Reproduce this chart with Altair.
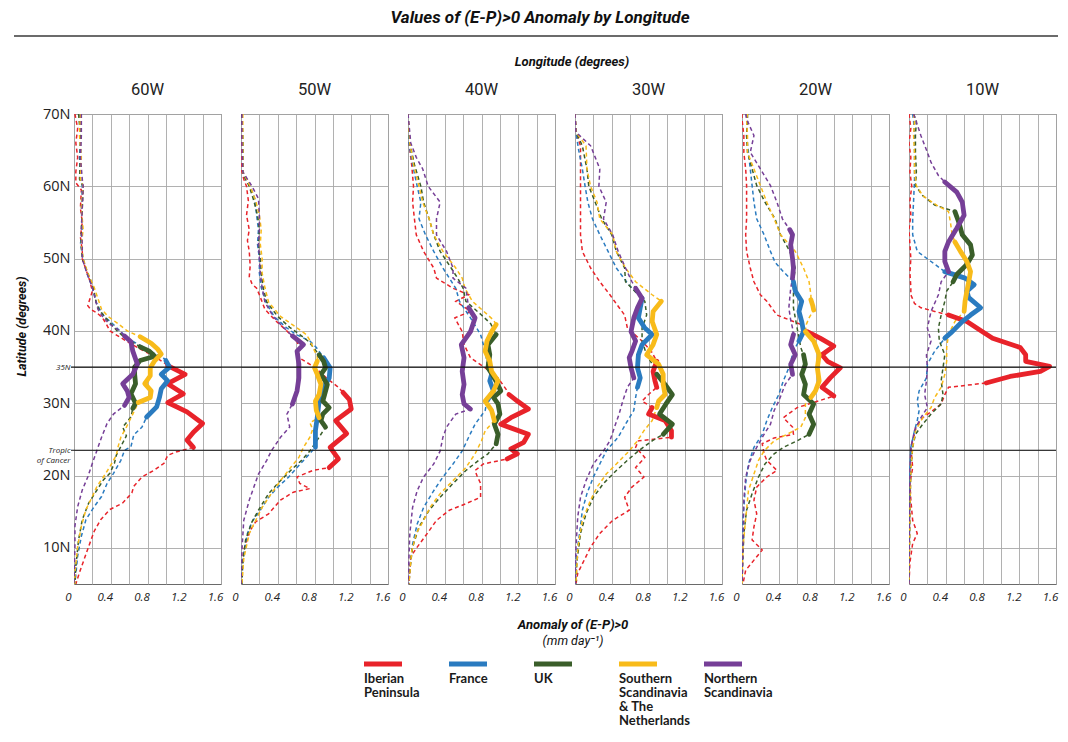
import altair as alt
import pandas as pd

# ---------------------------------------------------------------- categories
REGIONS = ["Iberian Peninsula", "France", "UK",
           "Southern Scandinavia & The Netherlands", "Northern Scandinavia"]
LEGEND_LABELS = ["Iberian\nPeninsula", "France", "UK",
                 "Southern\nScandinavia\n& The\nNetherlands", "Northern\nScandinavia"]
COLORS = ["#e8232a", "#2a7bc0", "#3a5e2a", "#f8bb1a", "#763f97"]
LONGITUDES = ["60W", "50W", "40W", "30W", "20W", "10W"]
LAT_GRID = [10, 20, 23.5, 30, 35, 40, 50, 60, 70]
X_GRID = [0, 0.2, 0.4, 0.6, 0.8, 1.0, 1.2, 1.4, 1.6]
MARKER_LATS = [35, 23.5]          # 35N and the Tropic of Cancer

# ---------------------------------------------------------------- series: (latitude, anomaly), north -> south
# 60W
W60_IBERIA = [(70, 0.01), (68, 0.04), (66, 0.02), (64, 0.04), (62, 0.02), (60.5, 0.02), (59.5, 0.08), (57, 0.07),
              (55, 0.09), (53, 0.07), (51, 0.09), (50, 0.09), (48.5, 0.13), (47, 0.17), (45.5, 0.2), (44.3, 0.17),
              (43.5, 0.15), (43, 0.18), (42.5, 0.25), (41.8, 0.31), (41, 0.35), (40, 0.39), (38.6, 0.57),
              (37.5, 0.72), (36.5, 0.87), (35.6, 0.98), (35.2, 1.02), (34, 1.21), (32.7, 1.02), (31.3, 1.19),
              (30.1, 1.02), (28.8, 1.23), (27.2, 1.40), (26, 1.30), (24.9, 1.23), (23.9, 1.30), (23.3, 1.12),
              (22.8, 1.02), (21.7, 0.98), (20.8, 0.88), (19.8, 0.74), (18.5, 0.65), (17.6, 0.63), (16.2, 0.53),
              (15.3, 0.39), (13.9, 0.29), (12.3, 0.22), (10.2, 0.16), (8.4, 0.11), (6.6, 0.06), (5, 0.02)]
W60_FRANCE = [(70, 0.06), (67, 0.07), (64, 0.06), (61, 0.07), (60, 0.09), (57, 0.08), (54, 0.09), (52, 0.07),
              (50, 0.1), (48, 0.14), (46, 0.2), (44, 0.24), (43, 0.28), (42, 0.33), (41, 0.42), (40, 0.5),
              (39, 0.58), (38, 0.72), (37, 0.86), (36.3, 0.97), (35.9, 1.0), (35, 1.04), (34, 0.95), (33.1, 1.02),
              (32, 0.95), (30.8, 0.93), (29.5, 0.9), (28.1, 0.79), (26.7, 0.74), (25.6, 0.65), (24, 0.62),
              (23.5, 0.55), (22.1, 0.51), (20.3, 0.43), (18.9, 0.36), (17.1, 0.3), (15.7, 0.22), (13.9, 0.13),
              (11.6, 0.08), (8.9, 0.04), (5, 0.01)]
W60_UK = [(70, 0.05), (67, 0.07), (64, 0.07), (61, 0.06), (60, 0.1), (57, 0.09), (54, 0.08), (52, 0.08),
          (50, 0.09), (48, 0.15), (46, 0.21), (44, 0.24), (43, 0.27), (42, 0.33), (41, 0.4), (40, 0.47),
          (39, 0.56), (37.8, 0.72), (37.2, 0.82), (36.5, 0.88), (35.9, 0.72), (35, 0.66), (34, 0.66),
          (32.7, 0.67), (31.3, 0.62), (30, 0.67), (29.3, 0.64), (28.1, 0.62), (26.7, 0.53), (25.5, 0.57),
          (24, 0.51), (22.8, 0.46), (21.7, 0.44), (20.3, 0.39), (19.4, 0.32), (18, 0.25), (16.2, 0.16),
          (13.9, 0.09), (11.1, 0.05), (7.5, 0.02), (5, 0.01)]
W60_SSCAN = [(70, 0.07), (67, 0.06), (64, 0.08), (61, 0.07), (60, 0.1), (57, 0.08), (54, 0.1), (52, 0.08),
             (50, 0.1), (48, 0.15), (46, 0.22), (44.5, 0.26), (43, 0.3), (42, 0.37), (41, 0.48), (40, 0.58),
             (39.2, 0.72), (38.3, 0.84), (37.5, 0.91), (36.8, 0.95), (35.9, 0.88), (34.9, 0.83), (33.8, 0.83),
             (32.7, 0.77), (31.7, 0.84), (30.8, 0.83), (30.1, 0.7), (28.5, 0.64), (26.7, 0.57), (25.3, 0.51),
             (24, 0.48), (22.8, 0.46), (21.2, 0.39), (19.8, 0.32), (18.5, 0.25), (17.1, 0.2), (15.3, 0.13),
             (13, 0.08), (10.2, 0.04), (6.6, 0.01), (5, 0.01)]
W60_NSCAN = [(70, 0.08), (67, 0.08), (64, 0.07), (61, 0.09), (60, 0.1), (57, 0.09), (54, 0.08), (52, 0.09),
             (50, 0.09), (48, 0.14), (46, 0.2), (44, 0.24), (43, 0.26), (42, 0.31), (41, 0.38), (40, 0.5),
             (39.3, 0.55), (38.5, 0.62), (37.2, 0.64), (35.4, 0.69), (34, 0.64), (32.7, 0.53), (31.7, 0.58),
             (30.8, 0.6), (29.7, 0.55), (28.5, 0.43), (27.2, 0.36), (25.3, 0.3), (23.5, 0.25), (21.7, 0.2),
             (19.8, 0.15), (18, 0.09), (15.7, 0.04), (13, 0.01), (10.2, 0.01), (5, 0.0)]
# 50W
W50_IBERIA = [(70, 0.01), (66, 0.01), (62, 0.01), (61, 0.03), (60, 0.06), (58, 0.08), (56, 0.06), (54, 0.09),
              (52.5, 0.07), (51, 0.09), (49, 0.1), (47.5, 0.09), (46.5, 0.12), (45.9, 0.17), (45, 0.2), (43, 0.26),
              (41.5, 0.37), (40, 0.5), (38.5, 0.61), (37.5, 0.64), (36.3, 0.63), (35, 0.8), (33.5, 0.93),
              (32.3, 1.05), (31.5, 1.11), (30.5, 1.18), (29.2, 1.2), (27.6, 1.03), (25.8, 1.15), (23.9, 0.97),
              (22.3, 1.06), (21.1, 0.96), (20.7, 0.78), (19.8, 0.61), (18.9, 0.64), (18.2, 0.75), (17.7, 0.57),
              (16.6, 0.43), (14.7, 0.3), (13.6, 0.16), (12.4, 0.1), (9.7, 0.03), (7, 0.01), (5, 0.0)]
W50_FRANCE = [(70, 0.01), (66, 0.02), (62, 0.02), (61, 0.05), (60, 0.1), (58.3, 0.15), (56, 0.17), (54, 0.19),
              (52, 0.18), (50, 0.2), (48, 0.2), (46, 0.22), (44, 0.27), (42, 0.36), (40.5, 0.49), (39.5, 0.6),
              (38.6, 0.75), (37.7, 0.82), (36.3, 0.9), (34.9, 0.97), (33.5, 0.96), (32.2, 0.9), (30.3, 0.85),
              (28, 0.83), (26.2, 0.81), (23.9, 0.81), (22.5, 0.71), (21.1, 0.61), (19.8, 0.52), (18.4, 0.4),
              (17, 0.3), (15.2, 0.21), (13.6, 0.12), (12, 0.07), (9.2, 0.03), (7, 0.01), (5, 0.01)]
W50_UK = [(70, 0.01), (66, 0.02), (62, 0.02), (61, 0.05), (60, 0.09), (58, 0.14), (56, 0.18), (54, 0.2),
          (52, 0.19), (50, 0.21), (48, 0.22), (46, 0.24), (44, 0.28), (42, 0.4), (40.5, 0.53), (39.5, 0.64),
          (38.5, 0.74), (37.5, 0.8), (36.7, 0.85), (35.8, 0.9), (34.9, 0.92), (34, 0.87), (32.6, 0.94),
          (31.2, 0.91), (30.3, 0.89), (29.4, 0.96), (28.5, 0.89), (27.6, 0.87), (26.7, 0.92), (25.3, 0.85),
          (23.4, 0.75), (22.1, 0.66), (20.7, 0.54), (18.9, 0.4), (17.5, 0.3), (15.2, 0.19), (13.6, 0.12),
          (11.1, 0.05), (8, 0.02), (5, 0.01)]
W50_SSCAN = [(70, 0.02), (66, 0.02), (62, 0.02), (61, 0.06), (60, 0.1), (58, 0.16), (56, 0.2), (54, 0.22),
             (52, 0.21), (50, 0.23), (48, 0.23), (46, 0.26), (44, 0.3), (42, 0.43), (40.5, 0.6), (39.5, 0.71),
             (38.5, 0.76), (37.5, 0.79), (36.5, 0.83), (35.8, 0.83), (34.9, 0.8), (34, 0.83), (32.6, 0.87),
             (31.2, 0.85), (30.3, 0.81), (29, 0.82), (28, 0.85), (27.3, 0.75), (26.4, 0.78), (25.3, 0.75),
             (23.9, 0.68), (22.5, 0.63), (21.1, 0.54), (19.3, 0.43), (17.5, 0.33), (15.6, 0.23), (13.8, 0.16),
             (12, 0.09), (8.5, 0.03), (5, 0.01)]
W50_NSCAN = [(70, 0.01), (66, 0.01), (62, 0.02), (61, 0.07), (60, 0.12), (58.3, 0.19), (56, 0.2), (54, 0.2),
             (52, 0.19), (50, 0.2), (48, 0.21), (46, 0.23), (44, 0.26), (42, 0.35), (40.5, 0.46), (39.3, 0.56),
             (38.1, 0.68), (37.2, 0.61), (35.4, 0.63), (33.5, 0.63), (31.7, 0.61), (29.9, 0.56), (28.5, 0.5),
             (26.7, 0.53), (25.3, 0.43), (23.4, 0.33), (22.1, 0.28), (20.2, 0.19), (18.4, 0.14), (16.6, 0.09),
             (13.8, 0.03), (9.7, 0.01), (5, 0.0)]
# 40W
W40_IBERIA = [(70, 0.0), (66, 0.01), (63, 0.04), (60, 0.06), (57.8, 0.05), (55.5, 0.07), (53.3, 0.09), (51, 0.17),
              (48.7, 0.28), (47.3, 0.31), (45.9, 0.49), (45, 0.66), (44.1, 0.52), (42.7, 0.68), (41.8, 0.51),
              (39.9, 0.59), (38.1, 0.61), (36.3, 0.68), (34.9, 0.84), (33.5, 0.98), (31.7, 1.08), (31.2, 1.1),
              (30.3, 1.19), (29.2, 1.31), (28, 1.12), (27.1, 1.01), (25.7, 1.31), (24.6, 1.26), (23.7, 1.12),
              (23, 1.19), (22.3, 1.08), (21.6, 0.82), (20.7, 0.73), (20, 0.75), (18.9, 0.79), (17, 0.79),
              (16.1, 0.63), (15.2, 0.45), (13.8, 0.31), (12, 0.21), (10.1, 0.1), (8.8, 0.03), (5, 0.01)]
W40_FRANCE = [(70, 0.0), (66, 0.01), (63, 0.05), (60, 0.1), (57.8, 0.14), (55.5, 0.12), (53.3, 0.19), (51, 0.28),
              (48.7, 0.38), (47.3, 0.45), (45.9, 0.52), (44.1, 0.56), (41.8, 0.68), (39.5, 0.79), (37.2, 0.84),
              (34.9, 0.87), (34, 0.91), (33.1, 0.89), (31.7, 0.93), (30.3, 0.86), (29, 0.84), (27.1, 0.73),
              (25.3, 0.66), (23.4, 0.59), (21.6, 0.49), (19.8, 0.38), (17.9, 0.28), (15.6, 0.17), (13.3, 0.1),
              (10.5, 0.05), (7, 0.02), (5, 0.01)]
W40_UK = [(70, 0.0), (66, 0.02), (63, 0.07), (60, 0.14), (57.8, 0.17), (55.5, 0.23), (53.3, 0.28), (51, 0.35),
          (48.7, 0.47), (47.3, 0.54), (45.9, 0.6), (44.1, 0.63), (42.2, 0.8), (41, 0.9), (39.5, 0.96), (38.1, 0.87),
          (36.7, 0.89), (34.9, 0.87), (33.5, 0.94), (31.7, 1.01), (30.8, 0.93), (29.9, 0.98), (28.5, 1.0),
          (27.1, 0.94), (25.7, 0.98), (24.4, 0.96), (23, 0.87), (22.1, 0.77), (20.7, 0.63), (18.9, 0.49),
          (17, 0.35), (15.2, 0.23), (12.9, 0.12), (10.1, 0.05), (7, 0.02), (5, 0.01)]
W40_SSCAN = [(70, 0.0), (66, 0.02), (63, 0.06), (60, 0.12), (57.8, 0.16), (55.5, 0.23), (53.3, 0.28), (51, 0.38),
             (48.7, 0.52), (47.3, 0.59), (45.9, 0.62), (44.1, 0.7), (42.2, 0.87), (41.5, 0.93), (40.9, 0.96),
             (39.9, 0.91), (38.6, 0.86), (37.2, 0.84), (35.8, 0.89), (34.4, 0.91), (33.1, 0.98), (31.7, 0.93),
             (30.3, 0.84), (29, 0.91), (27.6, 0.94), (26.2, 0.84), (24.8, 0.8), (23, 0.73), (21.1, 0.63),
             (19.3, 0.49), (17.5, 0.35), (15.6, 0.24), (13.8, 0.17), (12, 0.09), (9.5, 0.04), (5, 0.01)]
W40_NSCAN = [(70, 0.0), (66, 0.03), (64, 0.09), (62.4, 0.16), (60, 0.22), (57.8, 0.35), (55.5, 0.31), (53.3, 0.31),
             (51, 0.42), (48.7, 0.49), (47.3, 0.49), (45.9, 0.63), (44.1, 0.65), (43.2, 0.66), (41.8, 0.73),
             (39.9, 0.68), (38.1, 0.58), (36.3, 0.61), (34.4, 0.59), (32.6, 0.61), (31.2, 0.59), (29.9, 0.61),
             (29.2, 0.68), (28.5, 0.52), (26.7, 0.42), (25.3, 0.38), (23.4, 0.35), (21.6, 0.28), (19.8, 0.17),
             (17.9, 0.1), (15.6, 0.05), (12, 0.02), (5, 0.0)]
# 30W
W30_IBERIA = [(70, 0.0), (68, 0.01), (67, 0.02), (65.6, 0.06), (62.4, 0.06), (59.7, 0.06), (57.8, 0.06),
              (55.5, 0.06), (53.3, 0.06), (51, 0.08), (48.7, 0.17), (46.8, 0.27), (45, 0.38), (44.1, 0.43),
              (42.2, 0.54), (40.4, 0.57), (38.6, 0.73), (37.2, 0.83), (35.8, 0.89), (34.4, 0.85), (33.1, 0.87),
              (32.2, 0.89), (31.2, 0.8), (30.3, 0.73), (29.4, 0.84), (28.5, 0.8), (27.6, 0.98), (26.2, 1.05),
              (25.3, 1.05), (24.8, 0.69), (23.9, 0.66), (22.5, 0.76), (21.1, 0.66), (19.8, 0.75), (18.4, 0.62),
              (17, 0.54), (15.2, 0.59), (13.8, 0.41), (12, 0.27), (10.1, 0.17), (8.3, 0.1), (6.5, 0.03), (5, 0.01)]
W30_FRANCE = [(70, 0.0), (67.5, 0.01), (65, 0.04), (62.4, 0.08), (60, 0.11), (57.8, 0.14), (55.5, 0.19),
              (53.3, 0.27), (51, 0.36), (48.7, 0.45), (46.8, 0.56), (45.9, 0.62), (44.5, 0.73), (43.2, 0.71),
              (41.8, 0.69), (40.4, 0.76), (39.5, 0.84), (38.1, 0.73), (36.7, 0.69), (34.9, 0.68), (33.5, 0.71),
              (32.2, 0.68), (30.8, 0.66), (29, 0.64), (27.1, 0.55), (25.3, 0.47), (23.4, 0.34), (21.6, 0.27),
              (19.8, 0.2), (17.5, 0.13), (15.2, 0.08), (12, 0.05), (8.5, 0.01), (5, 0.01)]
W30_UK = [(70, 0.0), (67.5, 0.01), (65.6, 0.08), (62.4, 0.13), (60, 0.15), (57.8, 0.22), (55.5, 0.29), (53.3, 0.4),
          (51, 0.45), (48.7, 0.54), (46.8, 0.55), (45, 0.69), (44.1, 0.76), (42.2, 0.78), (40.4, 0.73), (38.6, 0.73),
          (36.7, 0.78), (35.2, 0.85), (34, 0.89), (32.6, 0.98), (31.2, 1.06), (29.9, 0.99), (28.5, 0.92),
          (27.1, 1.06), (25.7, 0.96), (24.8, 0.84), (23.4, 0.69), (22.1, 0.57), (20.7, 0.45), (18.9, 0.31),
          (17, 0.2), (14.7, 0.12), (12, 0.06), (8, 0.02), (5, 0.01)]
W30_SSCAN = [(70, 0.0), (67.5, 0.01), (65.6, 0.12), (62.4, 0.13), (60, 0.17), (57.8, 0.24), (55.5, 0.27),
             (53.3, 0.41), (51, 0.45), (48.7, 0.55), (46.8, 0.66), (45, 0.84), (44.1, 0.94), (42.7, 0.85),
             (41.3, 0.84), (39.5, 0.89), (38.1, 0.85), (36.7, 0.78), (35.4, 0.91), (34, 0.96), (32.6, 0.96),
             (31.2, 0.98), (30.3, 0.91), (29.4, 0.89), (27.6, 0.84), (26.2, 0.75), (24.8, 0.68), (23.4, 0.59),
             (21.6, 0.45), (20.2, 0.34), (18.4, 0.24), (16.6, 0.17), (13.8, 0.08), (10, 0.03), (5, 0.01)]
W30_NSCAN = [(70, 0.0), (67.5, 0.01), (65.6, 0.17), (64, 0.22), (62.4, 0.27), (60, 0.26), (57.8, 0.34),
             (55.5, 0.31), (53.3, 0.41), (51, 0.47), (48.7, 0.55), (46.8, 0.62), (45.9, 0.66), (44.5, 0.73),
             (43.2, 0.68), (41.8, 0.64), (39.9, 0.61), (38.6, 0.66), (37.2, 0.62), (36.3, 0.59), (34.9, 0.61),
             (33.5, 0.64), (32.2, 0.57), (30.3, 0.52), (28.5, 0.48), (26.7, 0.43), (24.8, 0.38), (23.4, 0.31),
             (21.6, 0.2), (19.3, 0.12), (17, 0.06), (14.3, 0.03), (10, 0.01), (5, 0.0)]
# 20W
W20_IBERIA = [(70, 0.0), (69.3, 0.0), (67, 0.02), (64.7, 0.02), (62.4, 0.04), (60.1, 0.05), (57.8, 0.05),
              (55.5, 0.05), (53.3, 0.04), (51, 0.05), (48.7, 0.09), (46.8, 0.13), (45, 0.2), (44.1, 0.27),
              (42.2, 0.38), (40.9, 0.64), (39.9, 0.71), (39, 0.85), (37.9, 1.0), (36.7, 0.87), (35.8, 0.93),
              (34.9, 1.07), (33.5, 0.96), (32.2, 0.87), (31, 1.0), (30.1, 0.78), (29.4, 0.6), (28, 0.45),
              (26.7, 0.55), (25.7, 0.56), (25.2, 0.35), (24.4, 0.22), (23, 0.24), (22.1, 0.27), (20.7, 0.38),
              (19.8, 0.27), (18.4, 0.16), (16.6, 0.13), (14.7, 0.16), (12.9, 0.13), (11.1, 0.11), (9.7, 0.22),
              (8.3, 0.13), (6.9, 0.04), (5, 0.01)]
W20_FRANCE = [(70, 0.05), (69.3, 0.06), (67, 0.05), (64.7, 0.07), (62.4, 0.09), (60.1, 0.11), (57.8, 0.13),
              (55.5, 0.16), (53.3, 0.24), (51, 0.31), (49.5, 0.36), (48.2, 0.45), (46.8, 0.56), (45.5, 0.58),
              (44.1, 0.65), (42.7, 0.62), (41.3, 0.65), (39.9, 0.67), (38.6, 0.62), (37.2, 0.56), (34.9, 0.51),
              (33.1, 0.45), (31.2, 0.4), (29.4, 0.33), (27.6, 0.27), (25.7, 0.22), (23.9, 0.13), (21.6, 0.07),
              (18.9, 0.04), (14, 0.01), (5, 0.0)]
W20_UK = [(70, 0.06), (69.3, 0.06), (67, 0.05), (64.7, 0.06), (62.4, 0.11), (60.1, 0.16), (57.8, 0.25),
          (55.5, 0.36), (53.3, 0.42), (51, 0.52), (48.7, 0.58), (46.8, 0.56), (45.9, 0.56), (43.2, 0.56),
          (40.4, 0.6), (37.7, 0.64), (36.7, 0.67), (35.4, 0.69), (34, 0.65), (32.6, 0.69), (31.2, 0.67),
          (29.9, 0.78), (28.5, 0.73), (27.1, 0.78), (25.7, 0.73), (24.8, 0.6), (23.9, 0.45), (23, 0.35),
          (21.6, 0.25), (19.8, 0.18), (17.5, 0.11), (15.2, 0.05), (12, 0.02), (5, 0.0)]
W20_SSCAN = [(70, 0.06), (69.3, 0.05), (67, 0.06), (64.7, 0.06), (62.4, 0.13), (60.1, 0.2), (57.8, 0.27),
             (55.5, 0.35), (53.3, 0.42), (51, 0.58), (48.7, 0.67), (46.8, 0.73), (45, 0.75), (44.3, 0.75),
             (43.5, 0.77), (42.9, 0.78), (41.8, 0.73), (40.9, 0.7), (39.9, 0.69), (38.6, 0.78), (36.7, 0.84),
             (34.9, 0.82), (33.1, 0.84), (31.7, 0.8), (30.8, 0.75), (29.9, 0.69), (28, 0.69), (26.7, 0.64),
             (25.7, 0.49), (24.8, 0.35), (23.4, 0.24), (22.1, 0.18), (20.2, 0.13), (17.9, 0.07), (14, 0.04),
             (10, 0.01), (5, 0.0)]
W20_NSCAN = [(70, 0.04), (69.3, 0.05), (67, 0.13), (64.7, 0.09), (62.4, 0.2), (60.1, 0.31), (57.8, 0.38),
             (55.5, 0.44), (54, 0.52), (53.3, 0.55), (51.9, 0.53), (50, 0.55), (48.7, 0.56), (47.3, 0.55),
             (45.9, 0.53), (43.2, 0.51), (41.5, 0.53), (40.4, 0.55), (39.5, 0.56), (38.1, 0.53), (36.7, 0.58),
             (35.4, 0.53), (34, 0.55), (32.6, 0.47), (30.3, 0.4), (29, 0.35), (27.1, 0.31), (25.7, 0.24),
             (23.9, 0.16), (22.1, 0.09), (19.8, 0.04), (16.6, 0.02), (10, 0.01), (5, 0.0)]
# 10W
W10_IBERIA = [(70, 0.0), (68, 0.02), (66, 0.0), (64, 0.02), (62, 0.01), (60, 0.03), (58, 0.01), (56, 0.02),
              (54, 0.0), (52, 0.01), (50, 0.02), (48, 0.01), (46, 0.02), (45, 0.02), (43.8, 0.06), (43.2, 0.13),
              (42.7, 0.28), (42.2, 0.43), (41.3, 0.63), (39.9, 0.8), (39, 0.91), (37.7, 1.21), (36.7, 1.27),
              (35.8, 1.27), (35.1, 1.53), (34.4, 1.43), (33.7, 1.1), (32.8, 0.84), (32.2, 0.43), (31.2, 0.39),
              (29.9, 0.35), (29, 0.26), (28, 0.15), (26.7, 0.07), (25.7, 0.06), (23.9, 0.02), (21.1, 0.04),
              (18.9, 0.01), (16.6, 0.02), (13.8, 0.04), (12, 0.09), (10.6, 0.04), (8, 0.01), (5, 0.0)]
W10_FRANCE = [(70, 0.04), (69, 0.05), (67, 0.06), (64.7, 0.06), (61, 0.06), (58, 0.05), (55.5, 0.04),
              (53.3, 0.04), (51, 0.09), (49.6, 0.24), (48.2, 0.39), (47.3, 0.61), (46.4, 0.71), (45.5, 0.63),
              (44.6, 0.65), (43.2, 0.78), (42.2, 0.67), (41.3, 0.58), (39.9, 0.47), (39, 0.39), (37.2, 0.28),
              (35.4, 0.2), (33.5, 0.19), (31.7, 0.11), (30.3, 0.09), (29, 0.11), (27.6, 0.09), (26.2, 0.06),
              (23.9, 0.02), (21, 0.01), (5, 0.0)]
W10_UK = [(70, 0.05), (69, 0.08), (67, 0.07), (64.7, 0.07), (62, 0.08), (60.1, 0.07), (58.7, 0.15), (57.4, 0.28),
          (56.8, 0.43), (56.5, 0.5), (55.1, 0.54), (53.3, 0.58), (51.9, 0.67), (50.5, 0.69), (49.2, 0.63),
          (47.8, 0.52), (46.8, 0.48), (45.5, 0.41), (44.1, 0.39), (42.2, 0.35), (40.4, 0.32), (38.6, 0.33),
          (36.7, 0.39), (34.9, 0.37), (33.1, 0.35), (31.2, 0.37), (29.9, 0.35), (28.5, 0.24), (27.1, 0.15),
          (25.7, 0.07), (23.9, 0.04), (21, 0.02), (15, 0.01), (5, 0.0)]
W10_SSCAN = [(70, 0.05), (69, 0.06), (67, 0.05), (64.7, 0.06), (62, 0.06), (60.1, 0.08), (58.7, 0.15),
             (57.4, 0.3), (56.5, 0.43), (55.1, 0.45), (53.3, 0.47), (52.3, 0.5), (51, 0.56), (49.6, 0.63),
             (48.2, 0.67), (46.8, 0.65), (45.5, 0.63), (44.1, 0.61), (42.7, 0.6), (41.3, 0.5), (39.5, 0.43),
             (37.7, 0.41), (35.8, 0.41), (34, 0.39), (32.2, 0.35), (30.8, 0.28), (29.4, 0.24), (28, 0.15),
             (26.2, 0.07), (23.9, 0.04), (21, 0.02), (15, 0.01), (5, 0.0)]
W10_NSCAN = [(70, 0.05), (69.3, 0.07), (67, 0.13), (64.7, 0.2), (63.3, 0.24), (61.5, 0.32), (60.6, 0.39),
             (59.2, 0.52), (57.8, 0.58), (56, 0.6), (54.2, 0.52), (52.3, 0.43), (51, 0.39), (49.6, 0.39),
             (48.2, 0.43), (46.8, 0.35), (45, 0.32), (42.7, 0.24), (40.4, 0.2), (38.6, 0.24), (36.7, 0.19),
             (34.9, 0.2), (33.1, 0.19), (31.2, 0.17), (29.4, 0.2), (28, 0.13), (26.2, 0.06), (23.9, 0.02),
             (21, 0.01), (5, 0.0)]

SERIES = {
    "60W": [W60_IBERIA, W60_FRANCE, W60_UK, W60_SSCAN, W60_NSCAN],
    "50W": [W50_IBERIA, W50_FRANCE, W50_UK, W50_SSCAN, W50_NSCAN],
    "40W": [W40_IBERIA, W40_FRANCE, W40_UK, W40_SSCAN, W40_NSCAN],
    "30W": [W30_IBERIA, W30_FRANCE, W30_UK, W30_SSCAN, W30_NSCAN],
    "20W": [W20_IBERIA, W20_FRANCE, W20_UK, W20_SSCAN, W20_NSCAN],
    "10W": [W10_IBERIA, W10_FRANCE, W10_UK, W10_SSCAN, W10_NSCAN],
}
# latitude bands (south, north) drawn as heavy solid line, per region
SOLID = {
    "60W": [[(23.9, 35.2)], [(28.1, 35.9)], [(29.3, 37.8)], [(30.1, 39.2)], [(29.7, 39.3)]],
    "50W": [[(21.1, 31.5)], [(23.9, 36.3)], [(26.7, 36.7)], [(28, 35.8)], [(29.9, 39.3)]],
    "40W": [[(22.3, 31.2)], [(30.3, 34)], [(24.4, 39.5)], [(27.6, 40.9)], [(29.2, 43.2)]],
    "30W": [[(32.2, 35.8), (25.3, 29.4)], [(32.2, 44.5)], [(25.7, 34)], [(29.4, 44.1)], [(33.5, 45.9)]],
    "20W": [[(31, 39.9)], [(38.6, 46.8)], [(25.7, 36.7)], [(42.9, 44.3), (30.8, 39.9)], [(47.3, 54), (34, 39.5)]],
    "10W": [[(32.8, 42.2)], [(39, 48.2)], [(46.8, 56.5)], [(42.7, 52.3)], [(48.2, 60.6)]],
}

# ---------------------------------------------------------------- tables
rows, solid_rows = [], []
for lon in LONGITUDES:
    for r, series in enumerate(SERIES[lon]):
        for k, (lat, v) in enumerate(series):
            rows.append({"panel": lon, "region": REGIONS[r], "lat": lat, "val": v, "idx": k})
        for s, (lo, hi) in enumerate(SOLID[lon][r]):
            for k, (lat, v) in enumerate(series):
                if lo <= lat <= hi:
                    solid_rows.append({"panel": lon, "region": REGIONS[r], "seg": f"{r}-{s}",
                                       "lat": lat, "val": v, "idx": k})
df = pd.DataFrame(rows)
sdf = pd.DataFrame(solid_rows)
marks_df = pd.DataFrame({"lat": MARKER_LATS})

W, H = 147, 470
SPACING = 20
SPAN = 6 * W + 5 * SPACING
HEAD_Y = -78            # header rule, relative to the top of the plots
HEAD_TOP = HEAD_Y - 0.8
color_scale = alt.Scale(domain=REGIONS, range=COLORS)
TITLE_FONT = "Roboto"

x_axis = alt.Axis(values=X_GRID, tickCount=len(X_GRID), grid=True, ticks=False, domain=False, title=None,
                  labelExpr="round(datum.value * 10) % 4 == 0 ? (datum.value == 0 ? '0' : format(datum.value, '.1f')) : ''",
                  labelFlush=False, labelOverlap=False, labelPadding=7, labelOffset=-6,
                  labelFont="Open Sans", labelFontStyle="italic", labelFontSize=11.5, labelColor="#222")

small = "datum.value == 35 || datum.value == 23.5"
y_axis_first = alt.Axis(values=LAT_GRID, tickCount=len(LAT_GRID), grid=True, ticks=False, domain=False,
                        title="Latitude (degrees)", titleFont=TITLE_FONT, titleFontSize=12.5,
                        titleFontStyle="italic", titleFontWeight="bold", titleColor="#111", titlePadding=8,
                        titleY=212,
                        labelExpr="datum.value == 23.5 ? ['Tropic', 'of Cancer'] : datum.value + 'N'",
                        labelFont="Open Sans", labelOverlap=False, labelPadding=4, labelColor="#222",
                        labelFontSize={"condition": {"test": small, "value": 8}, "value": 14.5},
                        labelFontStyle={"condition": {"test": small, "value": "italic"}, "value": "normal"})
y_axis_other = alt.Axis(values=LAT_GRID, tickCount=len(LAT_GRID), grid=True, ticks=False, domain=False,
                        labels=False, title=None)


def make_panel(i, lon):
    x = alt.X("val:Q", scale=alt.Scale(domain=[0, 1.6], nice=False, zero=False), axis=x_axis)
    y = alt.Y("lat:Q", scale=alt.Scale(domain=[5, 70], nice=False, zero=False),
              axis=y_axis_first if i == 0 else y_axis_other)
    color = alt.Color("region:N", scale=color_scale, legend=None)
    dashed = alt.Chart(df[df.panel == lon]).mark_line(
        strokeDash=[4, 3], strokeWidth=1.5, clip=True).encode(
        x=x, y=y, color=color, detail="region:N", order="idx:Q")
    solid = alt.Chart(sdf[sdf.panel == lon]).mark_line(
        strokeWidth=4.8, strokeCap="round", strokeJoin="round", clip=True).encode(
        x="val:Q", y="lat:Q", color=color, detail="seg:N", order="idx:Q")
    rules = alt.Chart(marks_df).mark_rule(color="#111", strokeWidth=1.2).encode(
        y="lat:Q", x=alt.value(-SPACING if i > 0 else -3), x2=alt.value(W))
    layers = [dashed, solid, rules]
    title_offset = 16
    if i == 0:
        head = alt.Chart(pd.DataFrame({"k": [0]})).mark_rule(color="#3a3a3a", strokeWidth=1.6).encode(
            x=alt.value(-60), x2=alt.value(SPAN + 2), y=alt.value(HEAD_Y))
        layers.append(head)
        title_offset = 16 + HEAD_TOP      # this panel's bounds start at the header rule
    return alt.layer(*layers).properties(
        width=W, height=H,
        title=alt.TitleParams(lon, font=TITLE_FONT, fontSize=16.5, fontWeight="normal",
                              color="#222", offset=title_offset, frame="group"))


panels = [make_panel(i, lon) for i, lon in enumerate(LONGITUDES)]
top = alt.hconcat(*panels, spacing=SPACING, bounds="flush",
                  title=alt.TitleParams("Longitude (degrees)", font=TITLE_FONT, fontSize=13,
                                        fontStyle="italic", fontWeight="bold", color="#111",
                                        anchor="middle", offset=45 + HEAD_TOP, dx=36))

# ---------------------------------------------------------------- legend row
leg_df = pd.DataFrame({"region": REGIONS, "label": LEGEND_LABELS})
lx = alt.X("region:N", scale=alt.Scale(type="point", domain=REGIONS, range=[309, 649], padding=0), axis=None)
leg_lines = alt.Chart(leg_df).mark_tick(orient="horizontal", size=38, thickness=5, opacity=1).encode(
    x=lx, y=alt.value(8), color=alt.Color("region:N", scale=color_scale, legend=None))
leg_text = alt.Chart(leg_df).mark_text(
    align="left", baseline="top", dx=-19, lineBreak="\n", font="Lato", fontWeight="bold",
    fontSize=13, lineHeight=14, color="#1a1a1a").encode(x=lx, y=alt.value(17), text="label:N")
legend = alt.layer(leg_lines, leg_text).properties(
    width=SPAN, height=50, view=alt.ViewBackground(stroke="transparent"),
    title=alt.TitleParams("Anomaly of (E-P)>0", subtitle="(mm day\u207b\u00b9)", anchor="middle", dx=8,
                          font=TITLE_FONT, fontSize=13, fontStyle="italic", fontWeight="bold",
                          color="#111", subtitleFont=TITLE_FONT, subtitleFontSize=12.5,
                          subtitleFontStyle="italic", subtitleColor="#111", subtitlePadding=3, offset=9))

chart = alt.vconcat(
    top, legend, spacing=15,
    title=alt.TitleParams("Values of (E-P)>0 Anomaly by Longitude", font=TITLE_FONT,
                          fontSize=17, fontStyle="italic", fontWeight="bold", color="#111",
                          anchor="middle", offset=8, dx=4),
).properties(padding={"left": 4, "top": 0, "right": 0, "bottom": 0}).configure_view(
    stroke="#6a6a6a", strokeWidth=1).configure_axis(gridColor="#a8a8a8", gridWidth=0.9, gridOpacity=1)

chart.save("out.html", embed_options={"renderer": "svg", "actions": False})
